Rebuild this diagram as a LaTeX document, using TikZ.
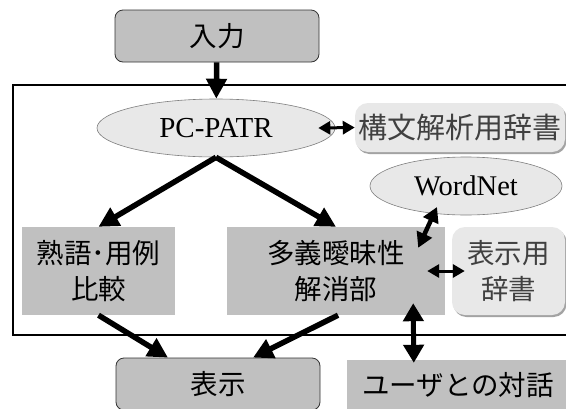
\documentclass[tikz,border=0pt]{standalone}
\usepackage{fontspec}
\setmainfont{Liberation Serif}
\newfontfamily\jpfont{Noto Sans CJK JP}
\usetikzlibrary{arrows.meta,shapes.geometric,shadows}
\definecolor{boxgray}{HTML}{C0C0C0}
\definecolor{lightbox}{HTML}{E8E8E8}
\definecolor{edgegray}{HTML}{7F7F7F}
\definecolor{txtgray}{HTML}{404040}
\begin{document}
\begin{tikzpicture}[x=1pt,y=-1pt,
  jptext/.style={font=\jpfont\fontsize{27.5}{36}\selectfont, align=center},
  roundbox/.style={jptext, rectangle, rounded corners=8pt, fill=boxgray, draw=black!80, line width=0.8pt, minimum width=204pt, minimum height=52pt, inner sep=0pt},
  flatbox/.style={jptext, rectangle, fill=boxgray, draw=none, inner sep=0pt},
  dictbox/.style={jptext, rectangle, rounded corners=13pt, fill=lightbox, draw=none, text=txtgray, inner sep=0pt,
    drop shadow={shadow xshift=1.5pt, shadow yshift=-2pt, fill=black!45, opacity=0.8}},
  ell/.style={ellipse, fill=lightbox, draw=edgegray, line width=0.6pt, inner sep=0pt},
  bigarr/.style={line width=5.5pt, -{Triangle[length=20pt,width=20pt]}},
  thinarr/.style={line width=3pt, {Triangle[length=12pt,width=13pt]}-{Triangle[length=12pt,width=13pt]}},
  midarr/.style={line width=4.5pt, {Triangle[length=15pt,width=16pt]}-{Triangle[length=15pt,width=16pt]}},
  usrarr/.style={line width=5pt, {Triangle[length=18pt,width=20pt]}-{Triangle[length=18pt,width=20pt]}}
]
\useasboundingbox (0,0) rectangle (566,408);
\clip (0,0) rectangle (566,408);
\fill[white] (0,0) rectangle (566,408);

% frame
\draw[line width=2pt] (13,85) rectangle (620,335);

% nodes
\node[roundbox] (inp) at (217,36) {入力};
\node[ell, minimum width=238pt, minimum height=58pt, font=\fontsize{29}{34}\selectfont] (pc) at (216,128) {PC-PATR};
\node[dictbox, minimum width=210pt, minimum height=49pt, font=\jpfont\fontsize{29}{36}\selectfont] (kobun) at (460,127.5) {構文解析用辞書};
\node[ell, minimum width=192pt, minimum height=58pt, font=\fontsize{28.5}{34}\selectfont] (wn) at (466,186) {WordNet};
\node[flatbox, minimum width=153pt, minimum height=88pt] (juku) at (98.5,271) {熟語･用例\\比較};
\node[flatbox, minimum width=218pt, minimum height=88pt] (tagi) at (336,271) {多義曖昧性\\解消部};
\node[dictbox, minimum width=113pt, minimum height=88pt] (hyy) at (508.5,271) {表示用\\辞書};
\node[roundbox] (hyoji) at (218,384) {表示};
\node[flatbox, minimum width=222pt, minimum height=50pt] (user) at (458,385) {ユーザとの対話};

% connectors
\draw[bigarr] (inp) -- (pc);
\draw[bigarr] (pc.south) -- (juku.north);
\draw[bigarr] (pc.south) -- (tagi.north);
\draw[bigarr] (juku.south) -- ([xshift=-50pt]hyoji.north);
\draw[bigarr] ([xshift=2pt]tagi.south) -- ([xshift=35pt]hyoji.north);
\draw[thinarr] ([xshift=-17pt]pc.east) -- (kobun.west);
\draw[thinarr] ([xshift=-18pt]tagi.east) -- ([xshift=13pt]hyy.west);
\draw[midarr] ([shift={(-29,21)}]wn.center) -- ([shift={(-27,21)}]tagi.north east);
\draw[usrarr] ([shift={(-32,-12)}]tagi.south east) -- ([shift={(67,3)}]user.north west);
\end{tikzpicture}
\end{document}
